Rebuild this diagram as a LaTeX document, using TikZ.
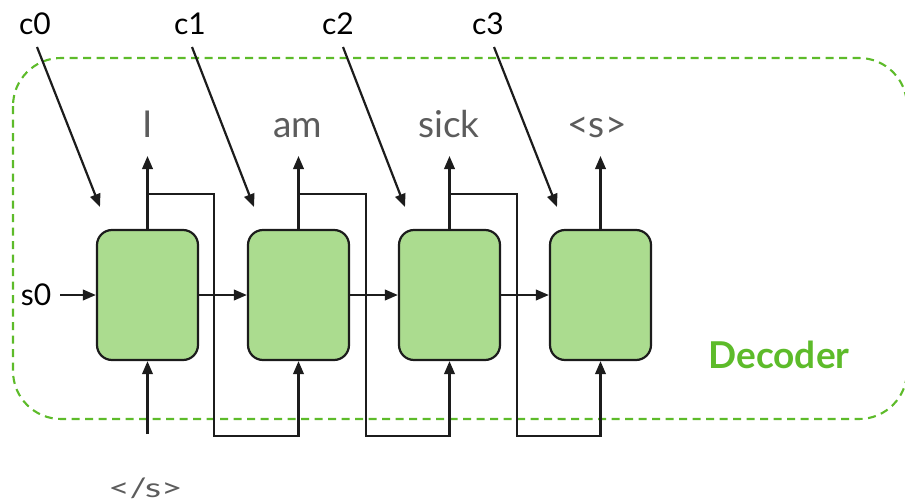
\documentclass[tikz,border=0pt]{standalone}
\usepackage{fontspec}
\setmainfont{Lato}
\usetikzlibrary{arrows.meta}
\definecolor{decgreen}{HTML}{5DBB2A}
\definecolor{cellfill}{HTML}{ABDC8F}
\definecolor{ink}{HTML}{1C1C1C}
\definecolor{wordgrey}{HTML}{5C5C5C}
\tikzset{
  cell/.style={draw=ink, fill=cellfill, line width=2.2pt, rounded corners=15pt,
    minimum width=101pt, minimum height=130pt, inner sep=0pt},
  arr/.style={draw=ink, line width=2.2pt, -{Triangle[length=13pt,width=10.5pt]}},
  fb/.style={draw=ink, line width=1.9pt},
  ctx/.style={font=\fontsize{30}{30}\selectfont, text=black, anchor=base, inner sep=0pt},
  word/.style={font=\fontsize{37}{37}\selectfont, text=wordgrey, anchor=base, inner sep=0pt},
  frame/.style={draw=decgreen, line width=2.1pt, dash pattern=on 8pt off 5.5pt, rounded corners=48pt},
}
\begin{document}
\begin{tikzpicture}[x=1pt, y=-1pt]
\useasboundingbox (0,0) rectangle (905,503);

% decoder frame
\draw[frame] (13,58) rectangle (907,419);
\node[font=\fontsize{37}{37}\selectfont\bfseries, text=decgreen, anchor=base] (dec) at (779,368) {Decoder};

% recurrent cells
\foreach \i/\x in {1/147.5, 2/298.5, 3/449.5, 4/600.5} {
  \node[cell] (b\i) at (\x,295) {};
  \coordinate (o\i) at (\x,156);
  \draw[arr] (b\i.north) -- (o\i);
}

% output words
\node[word] (w1) at (148,137) {I};
\node[word] (w2) at (298,137) {am};
\node[word] (w3) at (449,137) {sick};
\node[word] (w4) at (597,137) {<s>};

% hidden state passed along the chain
\draw[arr] (b1.east) -- (b2.west);
\draw[arr] (b2.east) -- (b3.west);
\draw[arr] (b3.east) -- (b4.west);

% initial state
\node[ctx] (s0) at (36,305) {s0};
\coordinate (s0e) at (60,295);
\draw[arr] (s0e) -- (b1.west);

% first input token
\node[word] (eos) at (145.5,497) {\scalebox{1}[0.72]{</s>}};
\coordinate (in1) at (147.5,434);
\draw[arr] (in1) -- (b1.south);

% outputs fed back as next inputs
\foreach \i/\j/\x/\y in {1/2/147.5/214, 2/3/298.5/366, 3/4/449.5/517} {
  \draw[fb] (\x,194) -- (\y,194) -- (\y,436) -- (b\j.south |- 0,436);
  \draw[arr] (b\j.south |- 0,437) -- (b\j.south);
}

% context vectors
\node[ctx] (c0) at (35,35) {c0};
\node[ctx] (c1) at (190,35) {c1};
\node[ctx] (c2) at (338,35) {c2};
\node[ctx] (c3) at (488,35) {c3};
\coordinate (cs0) at (37,47);
\coordinate (cs1) at (192,47);
\coordinate (cs2) at (343,47);
\coordinate (cs3) at (494,47);
\coordinate (ct0) at (100,207);
\coordinate (ct1) at (254,207);
\coordinate (ct2) at (405,207);
\coordinate (ct3) at (557,207);
\foreach \k in {0,1,2,3} {
  \draw[arr] (cs\k) -- (ct\k);
}
\end{tikzpicture}
\end{document}
